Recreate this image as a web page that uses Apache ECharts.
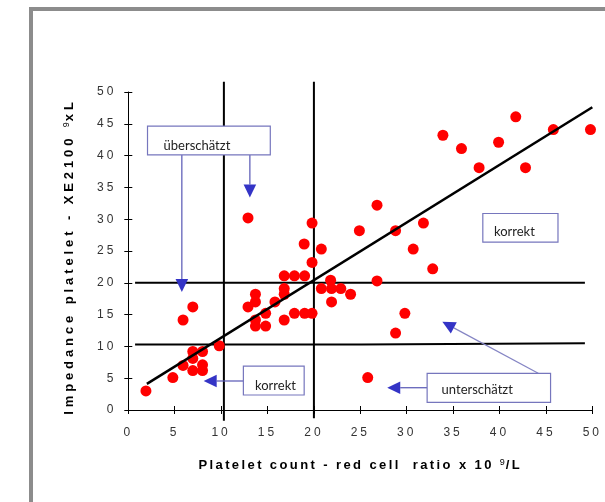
<!DOCTYPE html>
<html><head><meta charset="utf-8">
<script src="https://cdn.jsdelivr.net/npm/echarts@6/dist/echarts.min.js"></script>
<style>html,body{margin:0;padding:0;background:#fff}#c{width:605px;height:502px}</style>
</head><body><div id="c"></div>
<script>
// ---------------- data ----------------
const plateletCount = [1.9,4.8,5.9,5.9,6.95,6.95,8.0,6.95,8.0,6.95,8.0,9.8,12.9,12.9,13.7,13.7,13.7,13.7,14.8,14.8,15.8,16.8,17.9,19.0,16.8,16.8,16.8,17.9,19.0,19.8,18.95,19.8,19.8,20.8,20.8,21.8,21.9,22.9,21.9,23.95,24.9,25.8,26.8,26.8,28.8,28.8,29.8,30.7,31.8,32.8,33.9,35.9,37.8,39.9,41.75,42.8,45.8,49.8];
const impedance     = [3.0,5.1,7.0,14.15,16.2,9.2,9.2,8.1,7.1,6.2,6.2,10.1,30.2,16.2,18.2,17.0,14.15,13.2,13.2,15.2,17.0,21.1,21.1,21.1,19.1,18.2,14.15,15.2,15.2,15.2,26.1,29.4,23.2,25.3,19.1,20.4,19.1,19.1,17.0,18.2,28.2,5.1,32.2,20.3,28.2,12.1,15.2,25.3,29.4,22.2,43.2,41.1,38.1,42.1,46.1,38.1,44.1,44.1];
const regressionX = [2, 50];
const regressionY = [4.1, 47.6];
const cutoffVerticalX = [10.3, 20];
const cutoffVerticalYStart = [-1.7, -1.3];
const cutoffVerticalYEnd = [51.6, 51.6];
const upperHorizontal = [[0.73, 20], [49.2, 20]];
const lowerHorizontal = [[0.73, 10.3], [25.1, 10.3], [25.1, 10.5], [49.2, 10.5]];
const axisMin = 0, axisMax = 50, axisStep = 5;

// ---------------- letter spacing for the Arial-like texts ----------------
(function(){
  const proto = CanvasRenderingContext2D.prototype;
  const oFill = proto.fillText, oMeasure = proto.measureText;
  function sp(font){
    if (font.indexOf('Liberation Sans') < 0) return 0;
    if (/^800\b/.test(font) || / 800 /.test(' '+font)) return 3.9;
    if (/bold/.test(font)) return 2.4;
    const m = font.match(/([\d.]+)px/); const s = m ? +m[1] : 12;
    return s >= 11 ? 3 : 1;
  }
  const hasLS = 'letterSpacing' in proto;
  proto.fillText = function(t, x, y, mw){
    if (hasLS) this.letterSpacing = sp(this.font) + 'px';
    return mw === undefined ? oFill.call(this, t, x, y) : oFill.call(this, t, x, y, mw);
  };
  proto.measureText = function(t){
    const s = hasLS ? sp(this.font) : 0;
    if (hasLS) this.letterSpacing = '0px';
    const r = oMeasure.call(this, t);
    if (!s) return r;
    const n = String(t).length;
    return {width: r.width + s * n, actualBoundingBoxAscent: r.actualBoundingBoxAscent, actualBoundingBoxDescent: r.actualBoundingBoxDescent,
      actualBoundingBoxLeft: r.actualBoundingBoxLeft, actualBoundingBoxRight: r.actualBoundingBoxRight + s * n,
      fontBoundingBoxAscent: r.fontBoundingBoxAscent, fontBoundingBoxDescent: r.fontBoundingBoxDescent};
  };
})();

const chart = echarts.init(document.getElementById('c'), null, {renderer: 'canvas'});
const scatterData = plateletCount.map((x, i) => [x, impedance[i]]);
const regressionData = regressionX.map((x, i) => [x, regressionY[i]]);

const supStyle = {fontSize: 9, fontWeight: 'normal', fontFamily: 'Liberation Sans', color: '#000', verticalAlign: 'top'};
function baseAxis(extra){
  return Object.assign({type: 'value', min: axisMin, max: axisMax, interval: axisStep,
    splitLine: {show: false}}, extra);
}
const lineSeries = (data) => ({type: 'line', data, symbol: 'none', silent: true, clip: false,
  lineStyle: {color: '#000', width: 2}, z: 3});

const option = {
  animation: false,
  backgroundColor: '#fff',
  grid: {left: 128.3, right: 9.3, top: 92, bottom: 92},
  xAxis: [
    baseAxis({position: 'bottom',
      axisLine: {show: true, onZero: false, lineStyle: {color: '#000', width: 1}},
      axisTick: {show: true, inside: false, length: 4, lineStyle: {color: '#000'}},
      axisLabel: {color: '#333', fontFamily: 'Liberation Sans', fontSize: 12, margin: 15},
      name: 'Platelet count - red cell  ratio x 10 {sup|9}/L', nameLocation: 'middle', nameGap: 48,
      nameTextStyle: {fontFamily: 'Liberation Sans', fontWeight: 'bold', fontSize: 13, color: '#000', rich: {sup: supStyle}}}),
    baseAxis({position: 'bottom', axisLine: {show: false, onZero: false},
      axisTick: {show: true, inside: true, length: 4, lineStyle: {color: '#000'}}, axisLabel: {show: false}})
  ],
  yAxis: [
    baseAxis({position: 'left',
      axisLine: {show: true, onZero: false, lineStyle: {color: '#000', width: 1}},
      axisTick: {show: true, inside: false, length: 4, lineStyle: {color: '#000'}},
      axisLabel: {color: '#333', fontFamily: 'Liberation Sans', fontSize: 12, margin: 12},
      name: 'Impedance platelet - XE2100 {sup|9}xL', nameLocation: 'middle', nameGap: 50,
      nameTextStyle: {fontFamily: 'Liberation Sans', fontWeight: 800, fontSize: 13, color: '#000',
        padding: [0, 11, 0, 0], rich: {sup: supStyle}}}),
    baseAxis({position: 'left', axisLine: {show: false, onZero: false},
      axisTick: {show: true, inside: true, length: 4, lineStyle: {color: '#000'}}, axisLabel: {show: false}})
  ],
  series: [
    lineSeries([[cutoffVerticalX[0], cutoffVerticalYStart[0]], [cutoffVerticalX[0], cutoffVerticalYEnd[0]]]),
    lineSeries([[cutoffVerticalX[1], cutoffVerticalYStart[1]], [cutoffVerticalX[1], cutoffVerticalYEnd[1]]]),
    lineSeries(upperHorizontal),
    lineSeries(lowerHorizontal),
    {type: 'scatter', data: scatterData, symbol: 'circle', symbolSize: 11, silent: true,
      itemStyle: {color: '#ff0000', opacity: 1}, z: 4},
    Object.assign(lineSeries(regressionData), {lineStyle: {color: '#000', width: 2.5}, z: 5})
  ]
};
chart.setOption(option);

// ---------------- annotations (data coordinates) ----------------
const boxes = [
  {text: 'überschätzt',  x0: 2.07, x1: 15.3, y0: 44.65, y1: 40.1, tx: 3.8,  ty: 41.56},
  {text: 'korrekt',      x0: 38.2, x1: 46.3, y0: 30.9,  y1: 26.4, tx: 39.4, ty: 28.0},
  {text: 'korrekt',      x0: 12.4, x1: 18.95, y0: 6.9,  y1: 2.36, tx: 13.65, ty: 3.77},
  {text: 'unterschätzt', x0: 32.2, x1: 45.5, y0: 5.77,  y1: 1.21, tx: 33.76, ty: 3.14}
];
const arrows = [
  {from: [5.77, 40.1], to: [5.77, 18.55], color: '#5656b4'},
  {from: [13.1, 40.1], to: [13.1, 33.4],  color: '#5656b4'},
  {from: [12.4, 4.56], to: [8.12, 4.56],  color: '#5656b4'},
  {from: [32.2, 3.5],  to: [27.9, 3.5],   color: '#5656b4'},
  {from: [44.17, 5.77], to: [33.84, 13.88], color: '#8585c4'}
];
const P = (x, y) => chart.convertToPixel({gridIndex: 0}, [x, y]);
const g = [];
g.push({type: 'rect', silent: true, z: 100, shape: {x: 31, y: 9, width: 640, height: 560},
  style: {fill: 'none', stroke: '#8c8c8c', lineWidth: 4}});
arrows.forEach(a => {
  const f = P(a.from[0], a.from[1]), t = P(a.to[0], a.to[1]);
  const dx = f[0] - t[0], dy = f[1] - t[1], L = Math.hypot(dx, dy);
  const ux = dx / L, uy = dy / L, len = 13, hw = 6.3;
  const bx = t[0] + ux * len, by = t[1] + uy * len;
  g.push({type: 'line', silent: true, z: 101, shape: {x1: f[0], y1: f[1], x2: bx, y2: by},
    style: {stroke: a.color, lineWidth: 1.2}});
  g.push({type: 'polygon', silent: true, z: 101,
    shape: {points: [[t[0], t[1]], [bx - uy * hw, by + ux * hw], [bx + uy * hw, by - ux * hw]]},
    style: {fill: '#3434c6'}});
});
boxes.forEach(b => {
  const a = P(b.x0, b.y0), c = P(b.x1, b.y1), tp = P(b.tx, b.ty);
  g.push({type: 'rect', silent: true, z: 102,
    shape: {x: a[0], y: a[1], width: c[0] - a[0], height: c[1] - a[1]},
    style: {fill: '#fff', stroke: '#7676bd', lineWidth: 1.2}});
  g.push({type: 'text', silent: true, z: 103,
    style: {text: b.text, x: tp[0], y: tp[1], fill: '#222', font: '13px Lato', verticalAlign: 'middle', align: 'left'}});
});
chart.setOption({graphic: g});
</script>
</body></html>
